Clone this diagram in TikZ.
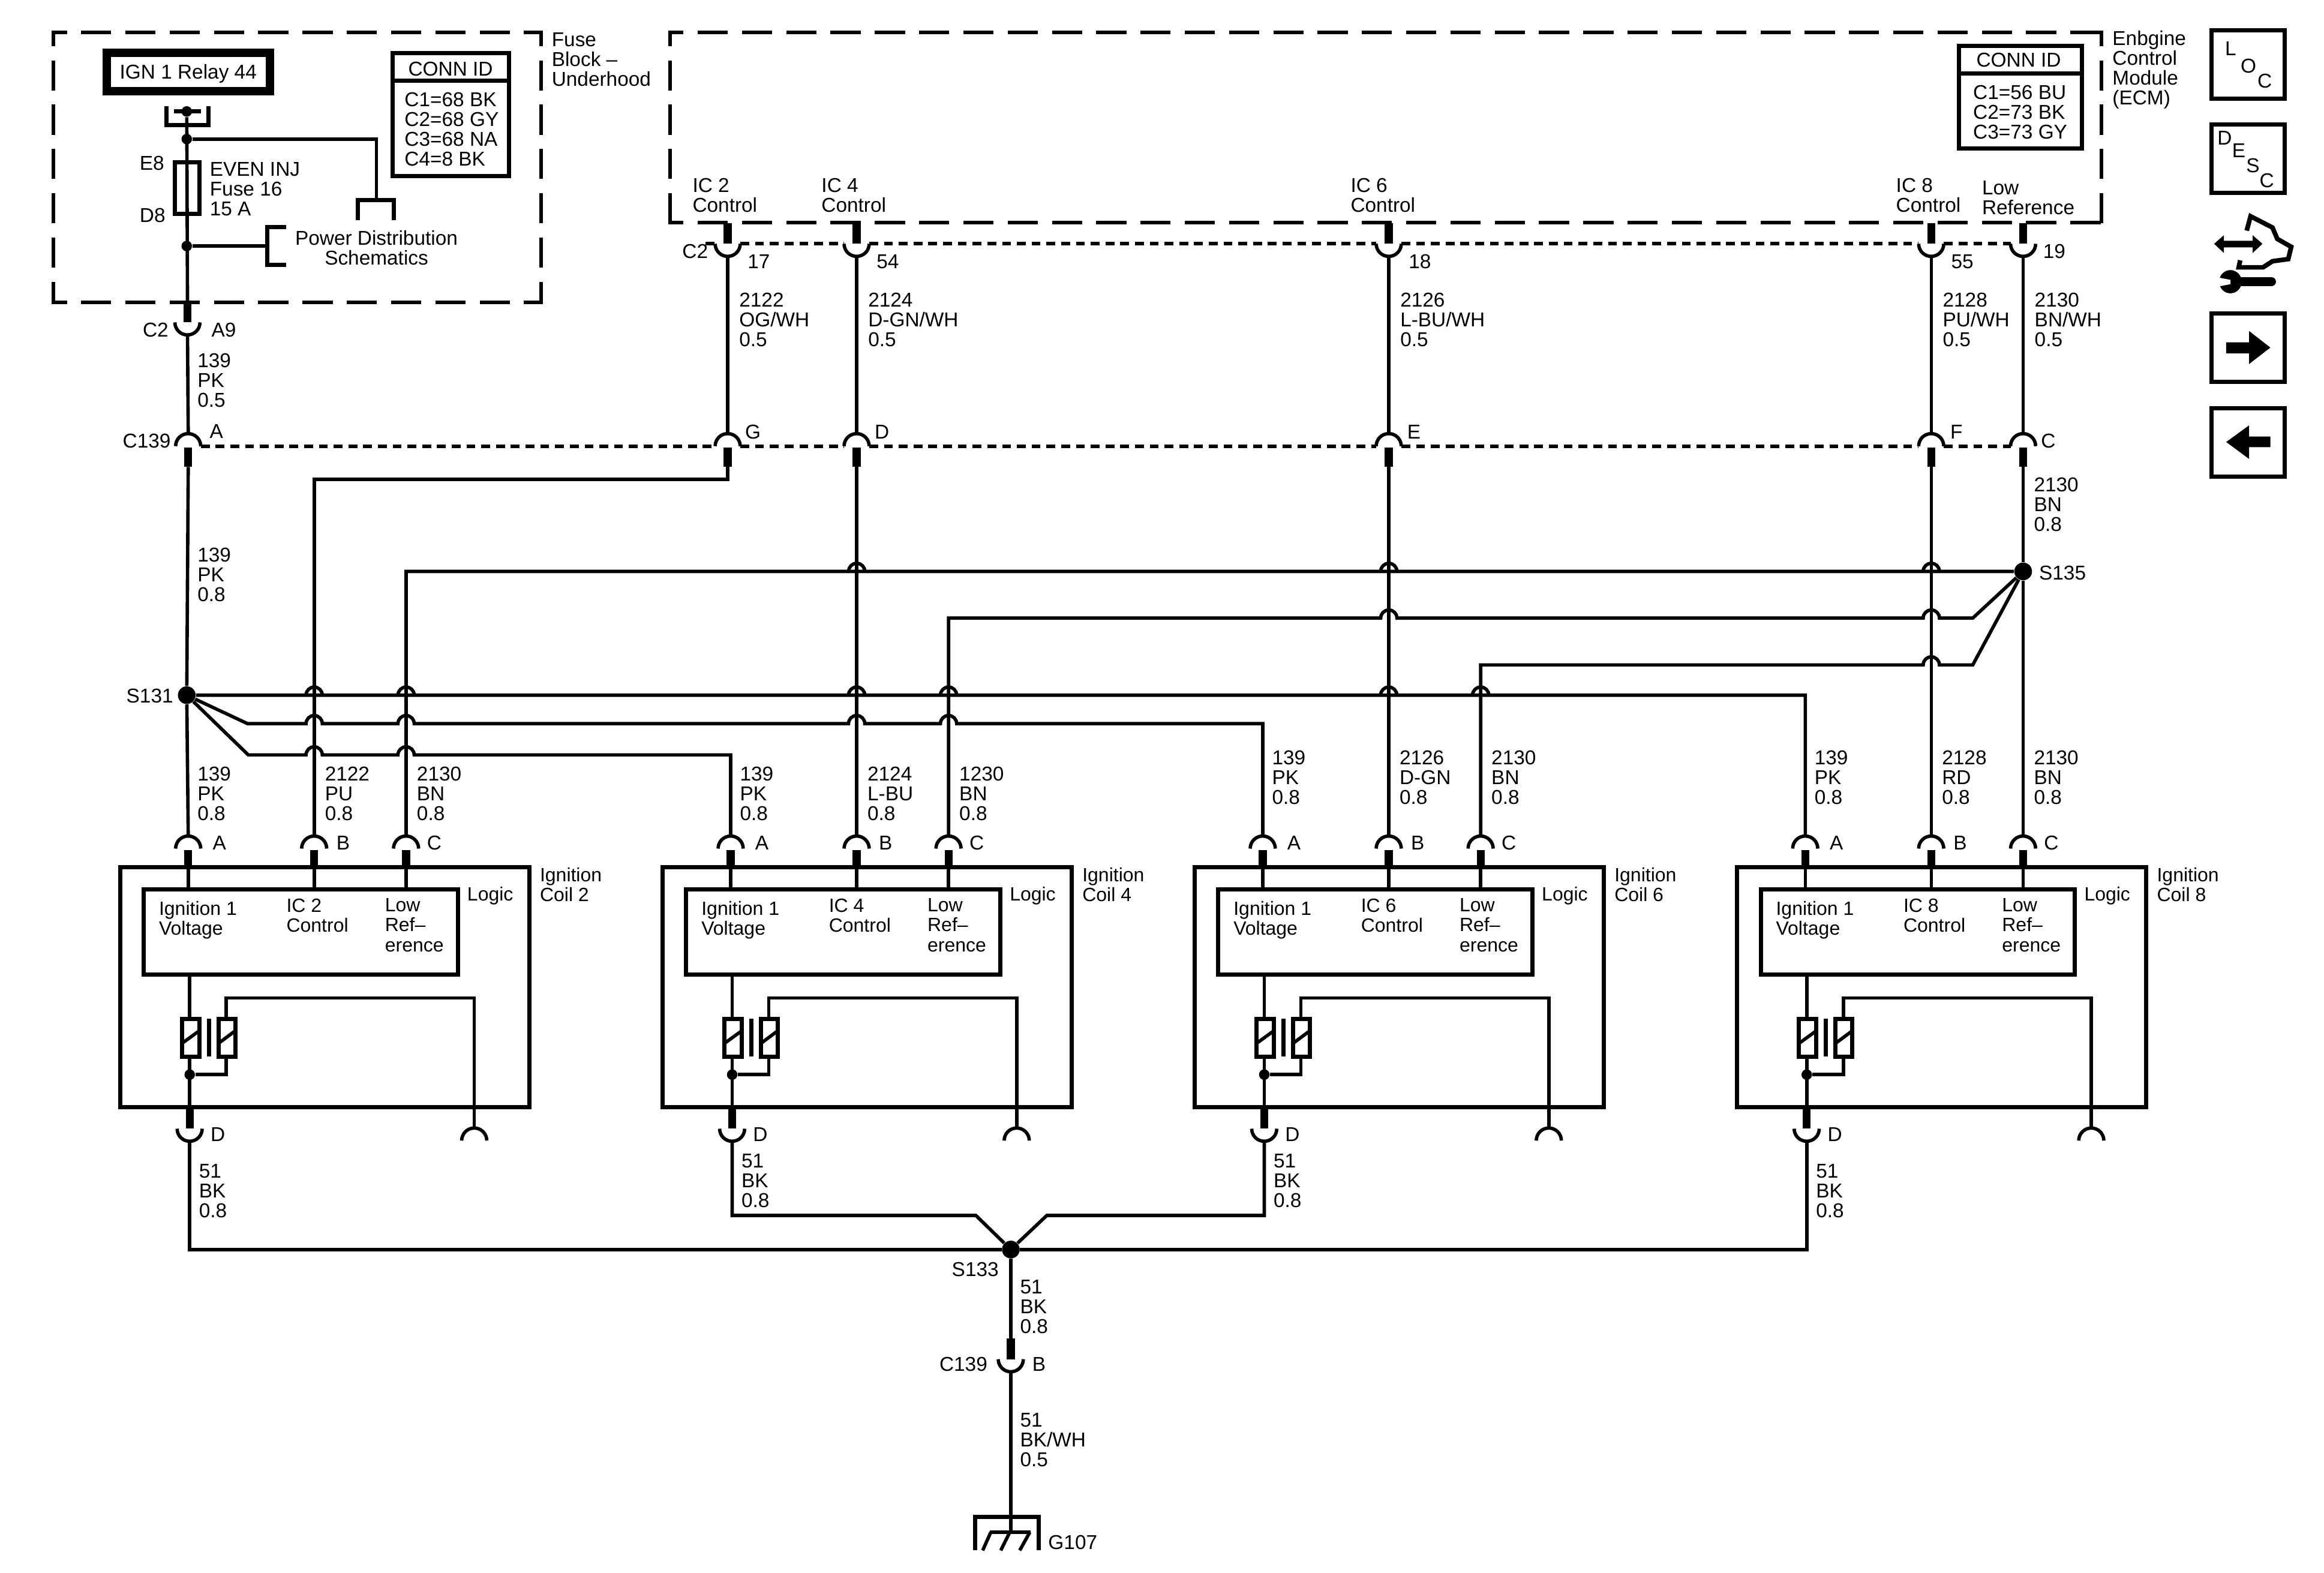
\documentclass[tikz,border=0pt]{standalone}
\usepackage{fontspec}
\setmainfont{Liberation Sans}
\usetikzlibrary{calc}

\tikzset{
  wire/.style={line width=1.6pt,black},
  stub/.style={line width=3.8pt,black},
  bus/.style={line width=1.7pt,dash pattern=on 4.2pt off 2.8pt},
  frameline/.style={line width=1.7pt,line cap=rect,dash pattern=on 12.6pt off 8.4pt,dash phase=7pt},
  boxline/.style={line width=2pt,black},
  splice/.style={circle,fill=black,inner sep=0pt,minimum size=8.4pt},
  dotjoin/.style={circle,fill=black,inner sep=0pt,minimum size=5pt},
  txt/.style={inner sep=0pt,yshift=-0.4pt,font=\fontsize{9.5}{9.4}\selectfont,align=left},
  lbl/.style={txt,anchor=west},
  coiltxt/.style={lbl,font=\fontsize{9.1}{9.4}\selectfont}
}

% cap connector, #3 is the level of the arc ends
\newcommand{\ConnCap}[3]{%
  \coordinate (#1) at (#2,#3-8.5);
  \coordinate (#1w) at (#2-8.5,#3);
  \coordinate (#1e) at (#2+8.5,#3);
  \coordinate (#1s) at (#2,#3+14);
  \draw[wire] (#1w) arc[start angle=180,end angle=0,radius=5.95pt];
  \draw[stub] (#2,#3+1) -- (#1s);
}
% cup connector, same idea upside down
\newcommand{\ConnCup}[3]{%
  \coordinate (#1) at (#2,#3+8.5);
  \coordinate (#1w) at (#2-8.5,#3);
  \coordinate (#1e) at (#2+8.5,#3);
  \coordinate (#1s) at (#2,#3-14);
  \draw[wire] (#1w) arc[start angle=180,end angle=360,radius=5.95pt];
  \draw[stub] (#2,#3) -- (#1s);
}
\newcommand{\DashBox}[5]{%
  \coordinate (#1nw) at (#2,#3);
  \coordinate (#1ne) at (#4,#3);
  \coordinate (#1sw) at (#2,#5);
  \coordinate (#1se) at (#4,#5);
  \draw[frameline] (#1nw) -- (#1ne);
  \draw[frameline] (#1ne) -- (#1se);
  \draw[frameline] (#1nw) -- (#1sw);
  \draw[frameline] (#1sw) -- (#1se);
}

\begin{document}
\begin{tikzpicture}[x=0.024707cm,y=-0.024707cm]
  \useasboundingbox (0,0) rectangle (1568,1061.2);

  % fuse block
  \DashBox{fb}{36}{22}{365}{204}
  \node[lbl] (fbname) at (372,39.5) {Fuse\\Block --\\Underhood};
  \draw[line width=4pt] (72,35.5) rectangle (182,61.5);
  \node[txt] (relay) at (127,49) {IGN 1 Relay 44};
  \draw[boxline] (112.5,71.7) |- (140.5,84.5) -- (140.5,71.7);
  \draw[boxline] (117.5,75.2) -- (135.5,75.2);
  \node[dotjoin] (rdot) at (126,75.2) {};
  \node[dotjoin] (fdota) at (126,93.8) {};
  \node[dotjoin] (fdotb) at (126,166) {};
  \draw[boxline] (118,109.3) rectangle (134.4,144.4);
  \node[lbl] (e8) at (94,109.4) {E8};
  \node[lbl] (d8) at (94,144.8) {D8};
  \node[lbl] (fuse) at (141.3,127) {EVEN INJ\\Fuse 16\\15 A};
  \coordinate (pdtop) at (254,135);
  \draw[wire] (fdota) -| (pdtop);
  \draw[boxline] (241.5,148.6) |- (265.6,135) -- (265.6,148.6);
  \draw[wire] (fdotb) -- (180.4,166);
  \draw[boxline] (193,153.3) -| (180.4,178.5) -- (193,178.5);
  \node[txt,align=center] (pdsch) at (254,166.5) {Power Distribution\\Schematics};
  \draw[boxline] (265,36) rectangle (343.6,118.6);
  \draw[boxline] (265,54.6) -- (343.6,54.6);
  \node[txt] (connfb) at (304,46) {CONN ID};
  \node[lbl] (connfbl) at (272.7,86.5) {C1=68 BK\\C2=68 GY\\C3=68 NA\\C4=8 BK};
  \ConnCup{fbc}{126.5}{217.5}
  \draw[wire] (rdot) -- (fbcs);
  \node[txt] (c2a) at (105,222) {C2};
  \node[txt] (a9) at (151,222) {A9};
  \node[lbl] (w139a) at (133,256) {139\\PK\\0.5};

  % ecm
  \DashBox{ecm}{452}{22}{1418}{150}
  \node[lbl] (ecmname) at (1425,46.5) {Enbgine\\Control\\Module\\(ECM)};
  \draw[boxline] (1321.5,30.8) rectangle (1404.5,100);
  \draw[boxline] (1321.5,49.5) -- (1404.5,49.5);
  \node[txt] (connecm) at (1362,40) {CONN ID};
  \node[lbl] (connecml) at (1331,75.2) {C1=56 BU\\C2=73 BK\\C3=73 GY};
  \node[lbl] (ic2) at (467,131) {IC 2\\Control};
  \node[lbl] (ic4) at (554,131) {IC 4\\Control};
  \node[lbl] (ic6) at (911,131) {IC 6\\Control};
  \node[lbl] (ic8) at (1279,131) {IC 8\\Control};
  \node[lbl] (lowref) at (1337,133) {Low\\Reference};
  \node[txt] (c2b) at (469,169) {C2};

  % ecm pins down to the inline connector
  \foreach \xp/\pinnr/\piny/\wnum/\wcol/\hl/\hly in {491/17/176/2122/{OG/WH}/G/291,
      578/54/176/2124/{D-GN/WH}/D/291,937/18/176/2126/{L-BU/WH}/E/291,
      1303/55/176/2128/{PU/WH}/F/291,1365/19/169/2130/{BN/WH}/C/297}{
    \ConnCup{ecm\pinnr}{\xp}{164.5}
    \ConnCap{c139\hl}{\xp}{301}
    \draw[wire] (ecm\pinnr) -- (c139\hl);
    \node[txt] (pin\pinnr) at (\xp+21,\piny) {\pinnr};
    \node[lbl] (w\pinnr) at (\xp+7.5,215) {\wnum\\\wcol\\0.5};
    \node[txt] (let\hl) at (\xp+17,\hly) {\hl};
  }
  \coordinate (ecmbus) at (476,164.5);
  \draw[bus] (ecmbus) -- (ecm17w);
  \draw[bus] (ecm17e) -- (ecm54w);
  \draw[bus] (ecm54e) -- (ecm18w);
  \draw[bus] (ecm18e) -- (ecm55w);
  \draw[bus] (ecm55e) -- (ecm19w);

  \ConnCap{c139A}{127}{301}
  \draw[wire] (fbc) -- (c139A);
  \node[txt] (c139t) at (99,297) {C139};
  \node[txt] (letA) at (146,290.5) {A};
  \draw[bus] (c139Ae) -- (c139Gw);
  \draw[bus] (c139Ge) -- (c139Dw);
  \draw[bus] (c139De) -- (c139Ew);
  \draw[bus] (c139Ee) -- (c139Fw);
  \draw[bus] (c139Fe) -- (c139Cw);
  \node[lbl] (w139b) at (133,387) {139\\PK\\0.8};
  \node[lbl] (w2130a) at (1372,340) {2130\\BN\\0.8};

  % coils
  \foreach \co/\dx/\wy/\gy/\icn/\icc/\lrn in {2/0/535/803/2122/PU/2130,4/366/535/796/2124/{L-BU}/1230,
      6/725/524/796/2126/{D-GN}/2130,8/1091/524/803/2128/RD/2130}{
    \begin{scope}[shift={(\dx,0)}]
      \ConnCap{coil\co a}{127}{572.5}
      \ConnCap{coil\co b}{212}{572.5}
      \ConnCap{coil\co c}{274}{572.5}
      \draw[boxline] (81,585) rectangle (357,747);
      \draw[boxline] (97,600) rectangle (309,657.5);
      \draw[wire] (127,585) -- (127,600);
      \draw[wire] (212,585) -- (212,600);
      \draw[wire] (274,585) -- (274,600);
      \node[lbl] (wa\co) at (133,\wy) {139\\PK\\0.8};
      \node[lbl] (wb\co) at (219,\wy) {\icn\\\icc\\0.8};
      \node[lbl] (wc\co) at (281,\wy) {\lrn\\BN\\0.8};
      \node[txt] (la\co) at (148,568) {A};
      \node[txt] (lb\co) at (231.5,568) {B};
      \node[txt] (lc\co) at (293,568) {C};
      \node[coiltxt] (v\co) at (107,620.3) {Ignition 1\\Voltage};
      \node[coiltxt] (cc\co) at (193,617) {IC \co\\Control};
      \node[coiltxt] (lr\co) at (259.5,623.6) {Low\\Ref--\\erence};
      \node[coiltxt] (lg\co) at (315,603.7) {Logic};
      \node[coiltxt] (nm\co) at (364,596.2) {Ignition\\Coil \co};
      % coil symbol
      \draw[boxline] (122.8,687.4) rectangle (134.5,712.9);
      \draw[boxline] (147.4,687.4) rectangle (158.8,712.9);
      \draw[boxline] (141,687.4) -- (141,712.9);
      \draw[wire] (122.8,703.9) -- (134.5,695.4);
      \draw[wire] (147.4,703.9) -- (158.8,695.4);
      \node[dotjoin] (cd\co) at (128,725) {};
      \draw[wire] (128,657.5) -- (128,687.4);
      \draw[wire] (128,712.9) -- (128,747);
      \draw[wire] (cd\co) -- (152.7,725) -- (152.7,712.9);
      \ConnCup{coil\co d}{128}{761.5}
      \coordinate (coil\co g) at (320,761);
      \draw[wire] (311.5,769.5) arc[start angle=180,end angle=0,radius=5.95pt];
      \draw[wire] (152.7,687.4) -- (152.7,673.3) -| (coil\co g);
      \node[txt] (ld\co) at (147,765) {D};
      \node[lbl] (wd\co) at (134,\gy) {51\\BK\\0.8};
    \end{scope}
  }

  % splices and harness
  \node[splice] (s131) at (126,469) {};
  \node[splice] (s135) at (1365,385.5) {};
  \node[splice] (s133) at (682,843) {};
  \node[lbl] (s131t) at (85,469) {S131};
  \node[lbl] (s135t) at (1375.5,386) {S135};
  \node[txt] (s133t) at (658,856) {S133};

  \draw[wire] (c139As) -- (s131) -- (coil2a);
  \draw[wire] (c139Gs) -- ++(0,8.5) -| (coil2b);
  \draw[wire] (c139Ds) -- (coil4b);
  \draw[wire] (c139Es) -- (coil6b);
  \draw[wire] (c139Fs) -- (coil8b);
  \draw[wire] (c139Cs) -- (s135) -- (coil8c);

  \draw[wire] (s131) \foreach \xh in {212,274,578,640,937,999}{ -- (\xh-5.5,469) arc[start angle=180,end angle=0,radius=3.85pt] } -| (coil8a);
  \draw[wire] (s131) -- (167,488.2) \foreach \xh in {212,274,578,640}{ -- (\xh-5.5,488.2) arc[start angle=180,end angle=0,radius=3.85pt] } -| (coil6a);
  \draw[wire] (s131) -- (167.5,509.3) \foreach \xh in {212,274}{ -- (\xh-5.5,509.3) arc[start angle=180,end angle=0,radius=3.85pt] } -| (coil4a);

  \draw[wire] (s135) \foreach \xh in {1303,937,578}{ -- (\xh+5.5,385.5) arc[start angle=0,end angle=180,radius=3.85pt] } -| (coil2c);
  \draw[wire] (s135) -- (1331,417) \foreach \xh in {1303,937}{ -- (\xh+5.5,417) arc[start angle=0,end angle=180,radius=3.85pt] } -| (coil4c);
  \draw[wire] (s135) -- (1331,448.6) \foreach \xh in {1303}{ -- (\xh+5.5,448.6) arc[start angle=0,end angle=180,radius=3.85pt] } -| (coil6c);

  \coordinate (jl) at (658.4,820);
  \coordinate (jr) at (706.3,820);
  \draw[wire] (coil2d) |- (s133);
  \draw[wire] (coil8d) |- (s133);
  \draw[wire] (coil4d) |- (jl) -- (s133);
  \draw[wire] (coil6d) |- (jr) -- (s133);

  % ground
  \ConnCup{c139B}{682}{917}
  \coordinate (gndtop) at (682,1033.7);
  \draw[wire] (s133) -- (c139Bs);
  \draw[wire] (c139B) -- (gndtop);
  \node[lbl] (w51a) at (688,881) {51\\BK\\0.8};
  \node[lbl] (w51b) at (688,971) {51\\BK/WH\\0.5};
  \node[txt] (c139u) at (650,920) {C139};
  \node[txt] (letB) at (701,920) {B};
  \draw[boxline] (658,1046) |- (701,1023.5) -- (701,1046);
  \draw[wire] (667.8,1033.7) -- (695.5,1033.7);
  \draw[wire] (668.5,1033.7) -- (663,1046);
  \draw[wire] (681.3,1033.7) -- (675.2,1046);
  \draw[wire] (694.8,1033.7) -- (688,1046);
  \node[lbl] (g107) at (707,1040) {G107};

  % side buttons
  \draw[boxline] (1492,20.5) rectangle (1541.5,66.4);
  \draw[boxline] (1492,84) rectangle (1541.5,130);
  \draw[boxline] (1492,211.5) rectangle (1541.5,257.5);
  \draw[boxline] (1492,275.5) rectangle (1541.5,321.6);
  \node[txt] (locl) at (1505,32.4) {L};
  \node[txt] (loco) at (1517,44) {O};
  \node[txt] (locc) at (1528,54) {C};
  \node[txt] (descd) at (1501,92.7) {D};
  \node[txt] (desce) at (1510.5,101) {E};
  \node[txt] (descs) at (1520,111.3) {S};
  \node[txt] (descc) at (1529.4,121.3) {C};
  \fill (1502,231) -- (1517.4,231) -- (1517.4,223.3) -- (1531.8,234.5) -- (1517.4,245.6) -- (1517.4,238.4) -- (1502,238.4) -- cycle;
  \fill (1531.8,294.5) -- (1517.4,294.5) -- (1517.4,287) -- (1502,298.2) -- (1517.4,309.6) -- (1517.4,301.7) -- (1531.8,301.7) -- cycle;
  \begin{scope}[shift={(1254.7,8.1)},x=0.004941cm,y=-0.005102cm]
    \fill (1195,758) -- (1228,730) -- (1228,748) -- (1325,748) -- (1325,730) -- (1358,758) -- (1325,788) -- (1325,770) -- (1228,770) -- (1228,788) -- cycle;
    \draw[line width=2.2pt] (1305,715) -- (1318,668) -- (1392,705) -- (1408,742) -- (1455,768) -- (1445,808) -- (1392,815) -- (1360,835) -- (1278,835) -- (1283,812);
    \fill (1250,882) circle[radius=38];
    \fill[white] (1208,868) -- (1250,876) -- (1250,890) -- (1208,898) -- cycle;
    \draw[line width=4.4pt,line cap=round] (1280,882) -- (1388,882);
  \end{scope}
\end{tikzpicture}
\end{document}
